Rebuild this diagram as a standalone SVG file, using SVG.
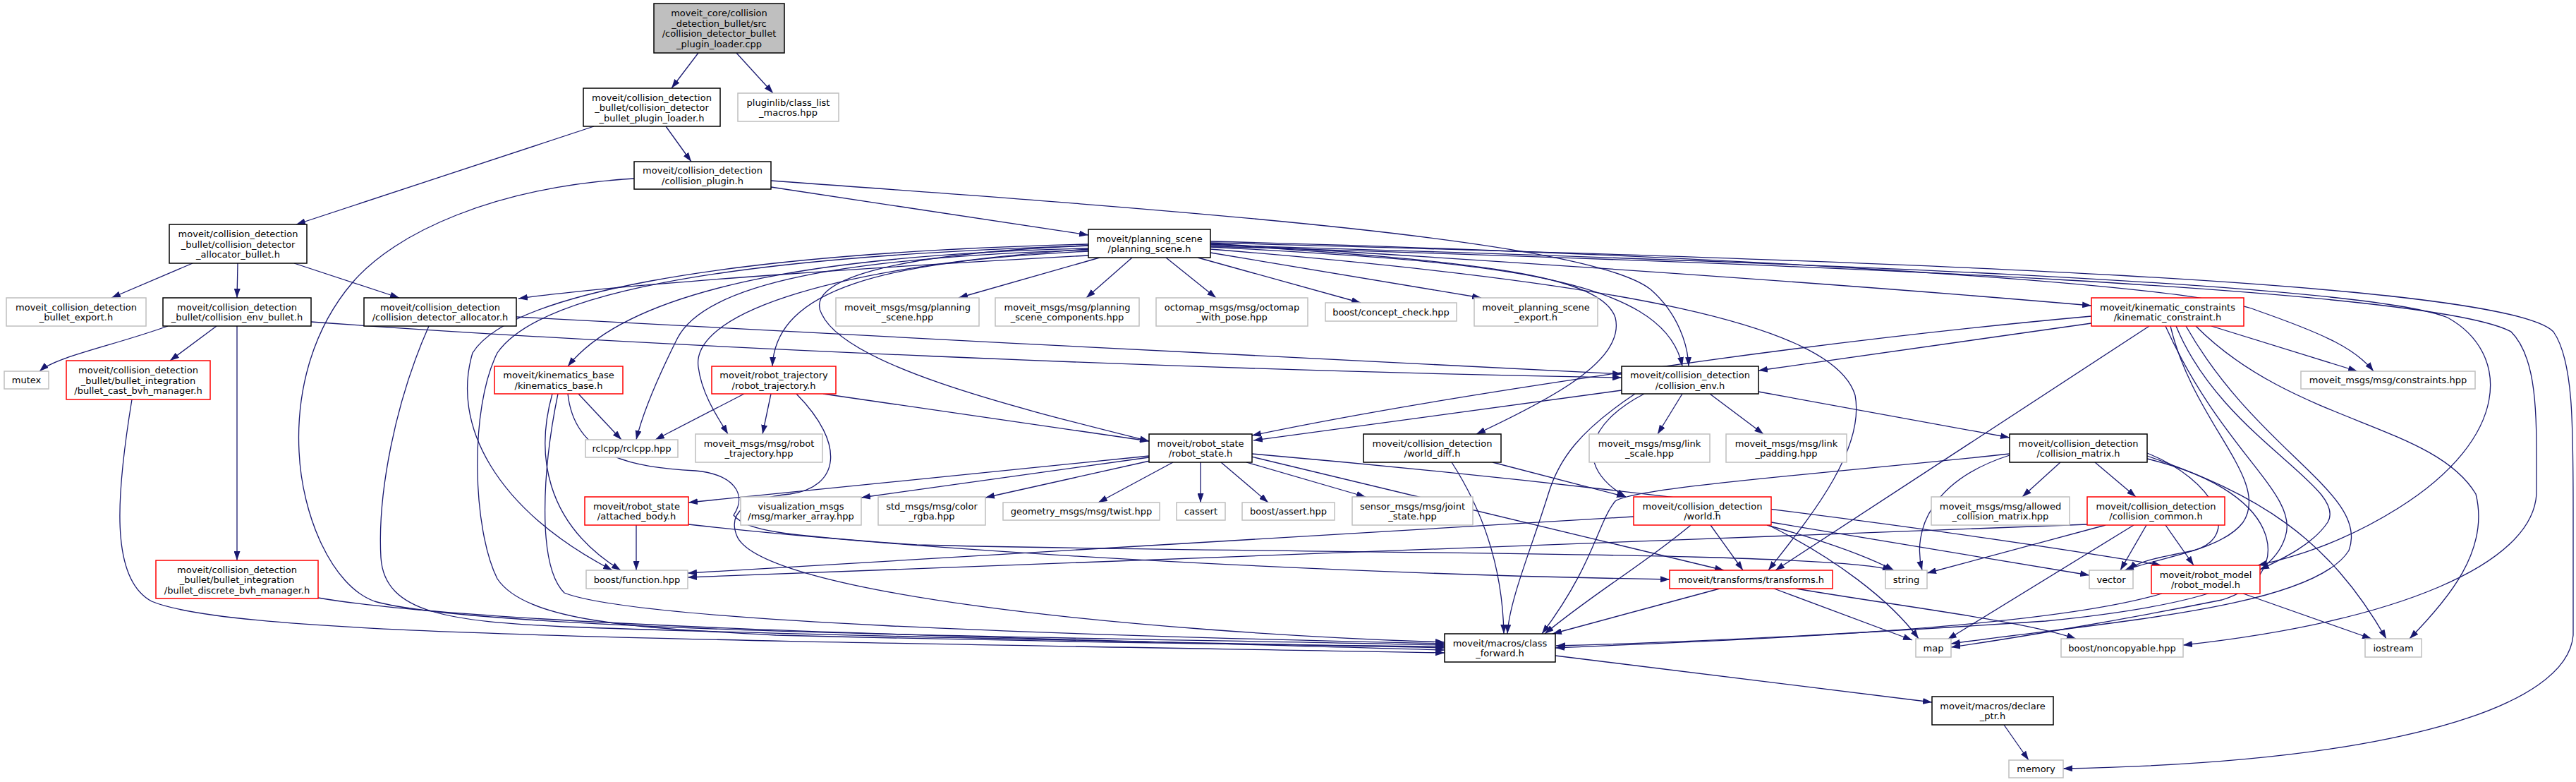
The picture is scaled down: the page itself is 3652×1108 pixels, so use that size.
<svg xmlns="http://www.w3.org/2000/svg" width="3652" height="1108" viewBox="0 0 3652 1108">
<defs>
<marker id="a" markerUnits="userSpaceOnUse" markerWidth="13" markerHeight="9" refX="13" refY="4.5" orient="auto"><path d="M0,0 L13,4.5 L0,9 z" fill="#191970"/></marker>
<style>
.e{fill:none;stroke:#191970;stroke-width:1.3;marker-end:url(#a)}
.k{fill:#fff;stroke:#000;stroke-width:1.5}
.g{fill:#fff;stroke:#bfbfbf;stroke-width:1.5}
.r{fill:#fff;stroke:#ff0000;stroke-width:1.5}
.root{fill:#bfbfbf;stroke:#000;stroke-width:1.5}
text{font-family:"DejaVu Sans","Liberation Sans",sans-serif;font-size:13px;text-anchor:middle;dominant-baseline:central;fill:#000}
</style>
</defs>
<rect width="3652" height="1108" fill="#fff"/>
<g id="edges">
<path class="e" d="M990,75 L952,125"/>
<path class="e" d="M1044,75 L1096,132"/>
<path class="e" d="M842,179 L420,318"/>
<path class="e" d="M944,179 L980,229"/>
<path class="e" d="M899,253 C700,265 560,330 500,400 C440,470 420,560 424,640 C428,730 470,830 531,852 C700,900 1700,905 2048,914"/>
<path class="e" d="M1093,265 L1543,333"/>
<path class="e" d="M1093,256 C1700,300 2250,340 2340,410 C2380,445 2393,490 2394,519"/>
<path class="e" d="M273,373 L158,422"/>
<path class="e" d="M337,373 L336,422"/>
<path class="e" d="M417,373 L566,422"/>
<path class="e" d="M238,462 C160,490 80,505 56,526"/>
<path class="e" d="M307,462 L241,511"/>
<path class="e" d="M336,462 L336,794"/>
<path class="e" d="M441,456 C900,490 1700,525 2299,535"/>
<path class="e" d="M608,462 C560,570 535,700 540,790 C545,870 640,880 800,888 C1200,903 1800,912 2048,918"/>
<path class="e" d="M732,449 C1200,475 1900,510 2299,530"/>
<path class="e" d="M187,566 C165,700 155,820 215,852 C330,900 900,905 2048,925"/>
<path class="e" d="M451,847 C700,890 1500,905 2048,921"/>
<path class="e" d="M1559,365 L1359,422"/>
<path class="e" d="M1605,365 L1540,422"/>
<path class="e" d="M1653,365 L1724,422"/>
<path class="e" d="M1698,365 L1929,429"/>
<path class="e" d="M1716,358 L2100,422"/>
<path class="e" d="M1716,350 C2100,370 2360,390 2385,519"/>
<path class="e" d="M1716,345 C2300,380 2700,410 2965,433"/>
<path class="e" d="M1716,342 C2400,360 3100,400 3200,440 C3300,475 3340,495 3365,526"/>
<path class="e" d="M1716,347 C2500,370 3350,400 3470,450 C3560,500 3560,620 3400,720 C3320,770 3250,790 3201,801"/>
<path class="e" d="M1716,349 C2600,375 3450,410 3560,470 C3600,510 3596,600 3596,700 C3590,800 3400,880 3095,914"/>
<path class="e" d="M1716,344 C2700,370 3550,400 3620,470 C3648,510 3648,600 3648,720 L3648,900 C3640,1000 3400,1080 2925,1089"/>
<path class="e" d="M1716,353 C2300,400 2600,460 2630,560 C2645,640 2560,740 2507,808"/>
<path class="e" d="M1716,346 C2100,370 2270,390 2290,450 C2305,510 2200,565 2093,615"/>
<path class="e" d="M1543,362 C1300,375 900,400 735,423"/>
<path class="e" d="M1543,352 C1200,360 900,400 805,519"/>
<path class="e" d="M1543,354 C1200,365 1000,400 960,480 C930,540 910,590 902,623"/>
<path class="e" d="M1543,356 C1250,370 1100,410 1095,519"/>
<path class="e" d="M1543,353 C1150,380 980,450 990,520 C995,560 1020,595 1032,615"/>
<path class="e" d="M1543,348 C1250,360 1140,400 1165,445 C1200,520 1450,580 1629,625"/>
<path class="e" d="M1543,346 C1000,360 720,420 670,500 C640,600 700,720 868,808"/>
<path class="e" d="M1543,348 C1000,365 760,420 705,500 C665,580 670,750 705,820 C745,880 900,890 1100,900 C1500,910 1900,915 2048,916"/>
<path class="e" d="M820,558 L881,623"/>
<path class="e" d="M783,558 C760,640 770,740 880,808"/>
<path class="e" d="M791,558 C770,660 760,800 800,840 C900,880 1500,900 2048,912"/>
<path class="e" d="M805,558 C815,650 900,662 986,667 C1040,672 1060,700 1040,730 C1060,752 1100,758 1300,772 C1800,785 2600,780 2682,808"/>
<path class="e" d="M1055,558 L929,623"/>
<path class="e" d="M1093,558 L1081,615"/>
<path class="e" d="M1167,558 L1629,625"/>
<path class="e" d="M1129,558 C1200,630 1190,690 1120,700 C1060,706 1030,725 1045,760 C1080,840 1600,895 2048,910"/>
<path class="e" d="M902,744 L902,808"/>
<path class="e" d="M976,743 C1400,790 2000,815 2367,821"/>
<path class="e" d="M1629,646 L976,712"/>
<path class="e" d="M1629,648 L1221,705"/>
<path class="e" d="M1630,653 L1397,705"/>
<path class="e" d="M1663,655 L1557,712"/>
<path class="e" d="M1702,655 L1702,712"/>
<path class="e" d="M1731,655 L1798,712"/>
<path class="e" d="M1767,655 L1936,704"/>
<path class="e" d="M1774,647 L2444,808"/>
<path class="e" d="M1775,643 C2200,680 2700,740 3064,801"/>
<path class="e" d="M2116,655 L2305,704"/>
<path class="e" d="M2058,655 C2100,720 2130,800 2132,898"/>
<path class="e" d="M2299,553 L1777,624"/>
<path class="e" d="M2331,558 C2250,600 2230,660 2305,704"/>
<path class="e" d="M2318,558 C2240,610 2210,650 2195,700 C2170,780 2140,850 2137,898"/>
<path class="e" d="M2385,558 L2350,615"/>
<path class="e" d="M2424,558 L2500,615"/>
<path class="e" d="M2493,555 L2849,620"/>
<path class="e" d="M2965,458 L2493,525"/>
<path class="e" d="M2965,448 C2500,490 2000,570 1775,617"/>
<path class="e" d="M3047,462 L2517,808"/>
<path class="e" d="M3135,462 L3342,526"/>
<path class="e" d="M3077,462 C3110,600 3220,680 3180,740 C3150,780 3060,790 3012,808"/>
<path class="e" d="M3085,462 C3150,620 3330,690 3300,740 C3280,770 3240,790 3204,807"/>
<path class="e" d="M3099,462 C3200,640 3360,700 3330,780 C3280,860 3000,880 2766,912"/>
<path class="e" d="M3113,462 C3250,600 3450,600 3510,700 C3530,780 3470,850 3416,905"/>
<path class="e" d="M3070,462 C3150,640 3260,700 3240,760 C3220,830 3100,860 2900,880 C2600,900 2400,910 2206,915"/>
<path class="e" d="M2316,732 L975,812"/>
<path class="e" d="M2425,744 L2471,808"/>
<path class="e" d="M2397,744 C2330,800 2260,840 2190,898"/>
<path class="e" d="M2505,744 C2600,770 2650,790 2685,808"/>
<path class="e" d="M2507,744 C2600,790 2680,850 2720,905"/>
<path class="e" d="M2511,740 C2700,770 2850,795 2962,815"/>
<path class="e" d="M2438,834 L2201,898"/>
<path class="e" d="M2515,834 L2711,907"/>
<path class="e" d="M2546,834 C2700,860 2870,880 2943,905"/>
<path class="e" d="M2921,655 L2867,704"/>
<path class="e" d="M2970,655 L3028,704"/>
<path class="e" d="M2849,645 C2740,680 2710,750 2725,808"/>
<path class="e" d="M3044,642 C3140,680 3180,760 3110,780 C3060,790 3030,795 3018,808"/>
<path class="e" d="M3044,646 C3200,700 3300,760 3383,905"/>
<path class="e" d="M3044,650 C3250,700 3250,820 3150,850 C3000,880 2850,905 2766,917"/>
<path class="e" d="M2849,643 C2600,670 2320,690 2290,710 C2265,740 2260,800 2186,898"/>
<path class="e" d="M2959,743 C2200,770 1500,800 975,818"/>
<path class="e" d="M2985,744 L2732,812"/>
<path class="e" d="M3025,744 L2761,906"/>
<path class="e" d="M3043,744 L3006,808"/>
<path class="e" d="M3070,744 L3110,801"/>
<path class="e" d="M3065,841 C2900,890 2500,905 2205,918"/>
<path class="e" d="M3180,841 L3362,905"/>
<path class="e" d="M2205,929 L2739,995"/>
<path class="e" d="M2841,1027 L2876,1077"/>
</g>
<g id="root"><rect class="root" x="927" y="5" width="185" height="70"/><text x="1019.5"><tspan x="1019.5" y="18.25">moveit_core/collision</tspan><tspan x="1019.5" y="32.75">_detection_bullet/src</tspan><tspan x="1019.5" y="47.25">/collision_detector_bullet</tspan><tspan x="1019.5" y="61.75">_plugin_loader.cpp</tspan></text></g>
<g id="loader"><rect class="k" x="827" y="125" width="194" height="54"/><text><tspan x="924" y="137.5">moveit/collision_detection</tspan><tspan x="924" y="152">_bullet/collision_detector</tspan><tspan x="924" y="166.5">_bullet_plugin_loader.h</tspan></text></g>
<g id="pluginlib"><rect class="g" x="1046" y="132" width="143" height="40"/><text><tspan x="1117.5" y="144.75">pluginlib/class_list</tspan><tspan x="1117.5" y="159.25">_macros.hpp</tspan></text></g>
<g id="collision_plugin"><rect class="k" x="899" y="229" width="194" height="39"/><text><tspan x="996" y="241.25">moveit/collision_detection</tspan><tspan x="996" y="255.75">/collision_plugin.h</tspan></text></g>
<g id="allocator_bullet"><rect class="k" x="240" y="318" width="195" height="55"/><text><tspan x="337.5" y="331">moveit/collision_detection</tspan><tspan x="337.5" y="345.5">_bullet/collision_detector</tspan><tspan x="337.5" y="360">_allocator_bullet.h</tspan></text></g>
<g id="bullet_export"><rect class="g" x="9" y="422" width="198" height="40"/><text><tspan x="108" y="434.75">moveit_collision_detection</tspan><tspan x="108" y="449.25">_bullet_export.h</tspan></text></g>
<g id="collision_env_bullet"><rect class="k" x="231" y="422" width="210" height="40"/><text><tspan x="336" y="434.75">moveit/collision_detection</tspan><tspan x="336" y="449.25">_bullet/collision_env_bullet.h</tspan></text></g>
<g id="collision_detector_allocator"><rect class="k" x="516" y="422" width="216" height="40"/><text><tspan x="624" y="434.75">moveit/collision_detection</tspan><tspan x="624" y="449.25">/collision_detector_allocator.h</tspan></text></g>
<g id="mutex"><rect class="g" x="6" y="526" width="63" height="25"/><text x="37.5" y="538.5">mutex</text></g>
<g id="bullet_cast"><rect class="r" x="94" y="511" width="204" height="55"/><text><tspan x="196" y="524">moveit/collision_detection</tspan><tspan x="196" y="538.5">_bullet/bullet_integration</tspan><tspan x="196" y="553">/bullet_cast_bvh_manager.h</tspan></text></g>
<g id="bullet_discrete"><rect class="r" x="221" y="794" width="230" height="54"/><text><tspan x="336" y="806.5">moveit/collision_detection</tspan><tspan x="336" y="821">_bullet/bullet_integration</tspan><tspan x="336" y="835.5">/bullet_discrete_bvh_manager.h</tspan></text></g>
<g id="planning_scene"><rect class="k" x="1543" y="325" width="173" height="40"/><text><tspan x="1629.5" y="337.75">moveit/planning_scene</tspan><tspan x="1629.5" y="352.25">/planning_scene.h</tspan></text></g>
<g id="ps_hpp"><rect class="g" x="1185" y="422" width="203" height="40"/><text><tspan x="1286.5" y="434.75">moveit_msgs/msg/planning</tspan><tspan x="1286.5" y="449.25">_scene.hpp</tspan></text></g>
<g id="ps_components"><rect class="g" x="1411" y="422" width="204" height="40"/><text><tspan x="1513" y="434.75">moveit_msgs/msg/planning</tspan><tspan x="1513" y="449.25">_scene_components.hpp</tspan></text></g>
<g id="octomap"><rect class="g" x="1639" y="422" width="215" height="40"/><text><tspan x="1746.5" y="434.75">octomap_msgs/msg/octomap</tspan><tspan x="1746.5" y="449.25">_with_pose.hpp</tspan></text></g>
<g id="concept_check"><rect class="g" x="1879" y="429" width="186" height="26"/><text x="1972" y="442">boost/concept_check.hpp</text></g>
<g id="ps_export"><rect class="g" x="2090" y="422" width="175" height="40"/><text><tspan x="2177.5" y="434.75">moveit_planning_scene</tspan><tspan x="2177.5" y="449.25">_export.h</tspan></text></g>
<g id="kinematic_constraint"><rect class="r" x="2965" y="422" width="216" height="40"/><text><tspan x="3073" y="434.75">moveit/kinematic_constraints</tspan><tspan x="3073" y="449.25">/kinematic_constraint.h</tspan></text></g>
<g id="kinematics_base"><rect class="r" x="701" y="519" width="182" height="39"/><text><tspan x="792" y="531.25">moveit/kinematics_base</tspan><tspan x="792" y="545.75">/kinematics_base.h</tspan></text></g>
<g id="robot_trajectory"><rect class="r" x="1009" y="519" width="176" height="39"/><text><tspan x="1097" y="531.25">moveit/robot_trajectory</tspan><tspan x="1097" y="545.75">/robot_trajectory.h</tspan></text></g>
<g id="collision_env"><rect class="k" x="2299" y="519" width="194" height="39"/><text><tspan x="2396" y="531.25">moveit/collision_detection</tspan><tspan x="2396" y="545.75">/collision_env.h</tspan></text></g>
<g id="constraints"><rect class="g" x="3262" y="526" width="247" height="25"/><text x="3385.5" y="538.5">moveit_msgs/msg/constraints.hpp</text></g>
<g id="rclcpp"><rect class="g" x="830" y="623" width="131" height="25"/><text x="895.5" y="635.5">rclcpp/rclcpp.hpp</text></g>
<g id="rt_hpp"><rect class="g" x="986" y="615" width="180" height="40"/><text><tspan x="1076" y="627.75">moveit_msgs/msg/robot</tspan><tspan x="1076" y="642.25">_trajectory.hpp</tspan></text></g>
<g id="robot_state"><rect class="k" x="1629" y="615" width="146" height="40"/><text><tspan x="1702" y="627.75">moveit/robot_state</tspan><tspan x="1702" y="642.25">/robot_state.h</tspan></text></g>
<g id="world_diff"><rect class="k" x="1933" y="615" width="195" height="40"/><text><tspan x="2030.5" y="627.75">moveit/collision_detection</tspan><tspan x="2030.5" y="642.25">/world_diff.h</tspan></text></g>
<g id="link_scale"><rect class="g" x="2253" y="615" width="171" height="40"/><text><tspan x="2338.5" y="627.75">moveit_msgs/msg/link</tspan><tspan x="2338.5" y="642.25">_scale.hpp</tspan></text></g>
<g id="link_padding"><rect class="g" x="2447" y="615" width="171" height="40"/><text><tspan x="2532.5" y="627.75">moveit_msgs/msg/link</tspan><tspan x="2532.5" y="642.25">_padding.hpp</tspan></text></g>
<g id="collision_matrix"><rect class="k" x="2849" y="615" width="195" height="40"/><text><tspan x="2946.5" y="627.75">moveit/collision_detection</tspan><tspan x="2946.5" y="642.25">/collision_matrix.h</tspan></text></g>
<g id="attached_body"><rect class="r" x="829" y="704" width="147" height="40"/><text><tspan x="902.5" y="716.75">moveit/robot_state</tspan><tspan x="902.5" y="731.25">/attached_body.h</tspan></text></g>
<g id="marker_array"><rect class="g" x="1050" y="704" width="171" height="40"/><text><tspan x="1135.5" y="716.75">visualization_msgs</tspan><tspan x="1135.5" y="731.25">/msg/marker_array.hpp</tspan></text></g>
<g id="color_rgba"><rect class="g" x="1245" y="704" width="152" height="40"/><text><tspan x="1321" y="716.75">std_msgs/msg/color</tspan><tspan x="1321" y="731.25">_rgba.hpp</tspan></text></g>
<g id="twist"><rect class="g" x="1422" y="712" width="222" height="25"/><text x="1533" y="724.5">geometry_msgs/msg/twist.hpp</text></g>
<g id="cassert"><rect class="g" x="1668" y="712" width="69" height="25"/><text x="1702.5" y="724.5">cassert</text></g>
<g id="boost_assert"><rect class="g" x="1761" y="712" width="131" height="25"/><text x="1826.5" y="724.5">boost/assert.hpp</text></g>
<g id="joint_state"><rect class="g" x="1917" y="704" width="171" height="40"/><text><tspan x="2002.5" y="716.75">sensor_msgs/msg/joint</tspan><tspan x="2002.5" y="731.25">_state.hpp</tspan></text></g>
<g id="world"><rect class="r" x="2316" y="704" width="195" height="40"/><text><tspan x="2413.5" y="716.75">moveit/collision_detection</tspan><tspan x="2413.5" y="731.25">/world.h</tspan></text></g>
<g id="allowed"><rect class="g" x="2738" y="704" width="196" height="40"/><text><tspan x="2836" y="716.75">moveit_msgs/msg/allowed</tspan><tspan x="2836" y="731.25">_collision_matrix.hpp</tspan></text></g>
<g id="collision_common"><rect class="r" x="2959" y="704" width="195" height="40"/><text><tspan x="3056.5" y="716.75">moveit/collision_detection</tspan><tspan x="3056.5" y="731.25">/collision_common.h</tspan></text></g>
<g id="boost_function"><rect class="g" x="831" y="808" width="144" height="26"/><text x="903" y="821">boost/function.hpp</text></g>
<g id="transforms"><rect class="r" x="2367" y="808" width="231" height="26"/><text x="2482.5" y="821">moveit/transforms/transforms.h</text></g>
<g id="string"><rect class="g" x="2673" y="808" width="59" height="26"/><text x="2702.5" y="821">string</text></g>
<g id="vector"><rect class="g" x="2962" y="808" width="62" height="26"/><text x="2993" y="821">vector</text></g>
<g id="robot_model"><rect class="r" x="3050" y="801" width="154" height="40"/><text><tspan x="3127" y="813.75">moveit/robot_model</tspan><tspan x="3127" y="828.25">/robot_model.h</tspan></text></g>
<g id="class_forward"><rect class="k" x="2048" y="898" width="157" height="40"/><text><tspan x="2126.5" y="910.75">moveit/macros/class</tspan><tspan x="2126.5" y="925.25">_forward.h</tspan></text></g>
<g id="map"><rect class="g" x="2716" y="905" width="50" height="26"/><text x="2741" y="918">map</text></g>
<g id="noncopyable"><rect class="g" x="2922" y="905" width="173" height="26"/><text x="3008.5" y="918">boost/noncopyable.hpp</text></g>
<g id="iostream"><rect class="g" x="3353" y="905" width="80" height="26"/><text x="3393" y="918">iostream</text></g>
<g id="declare_ptr"><rect class="k" x="2739" y="987" width="172" height="40"/><text><tspan x="2825" y="999.75">moveit/macros/declare</tspan><tspan x="2825" y="1014.25">_ptr.h</tspan></text></g>
<g id="memory"><rect class="g" x="2848" y="1077" width="77" height="25"/><text x="2886.5" y="1089.5">memory</text></g>
</svg>
